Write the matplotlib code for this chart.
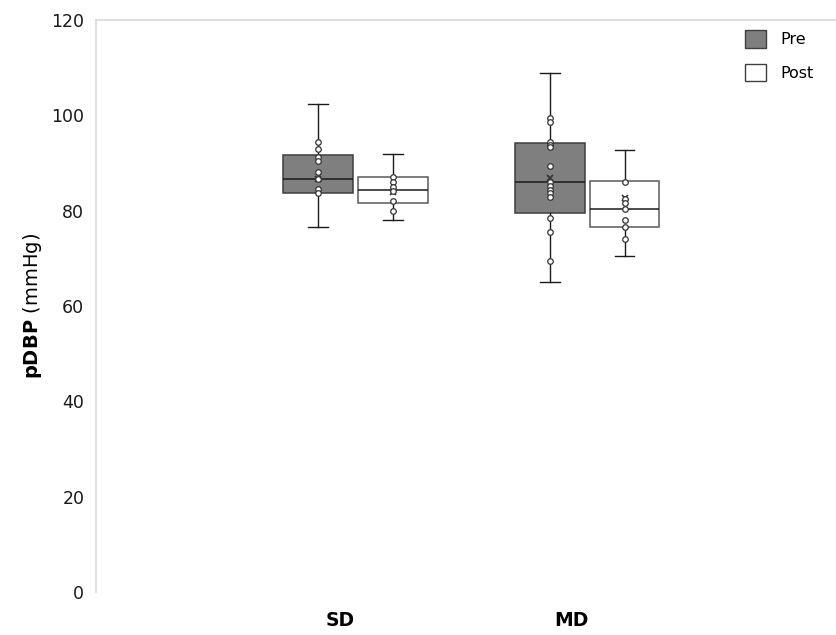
"""
Peripheral diastolic BP before/after, SD vs MD - box plot with inner points.
Saved to out.png
"""
import numpy as np
import matplotlib
matplotlib.use("Agg")
import matplotlib.pyplot as plt
from matplotlib.patches import Patch

GROUPS = ["SD", "MD"]
CONDS = ["Pre", "Post"]

# box statistics: whislo, q1, median, q3, whishi, mean
SD_PRE = dict(whislo=76.6, q1=83.8, med=86.7, q3=91.7, whishi=102.4, mean=86.6)
SD_POST = dict(whislo=78.0, q1=81.5, med=84.3, q3=87.0, whishi=91.8, mean=84.0)
MD_PRE = dict(whislo=65.0, q1=79.5, med=85.9, q3=94.1, whishi=108.8, mean=86.8)
MD_POST = dict(whislo=70.4, q1=76.6, med=80.4, q3=86.2, whishi=92.8, mean=82.6)

# inner points
SD_PRE_PTS = [94.5, 92.9, 91.3, 90.5, 88.0, 86.6, 84.6, 83.6]
SD_POST_PTS = [87.0, 85.9, 84.9, 84.1, 82.0, 80.0]
MD_PRE_PTS = [99.4, 98.5, 94.5, 93.8, 93.3, 89.4, 86.0, 85.2, 84.3, 83.6, 82.9,
              78.5, 75.5, 69.5]
MD_POST_PTS = [86.0, 82.4, 81.7, 80.4, 78.0, 76.6, 74.0]

PRE_COL, POST_COL = "#7f7f7f", "#ffffff"
EDGE = "#3f3f3f"

plt.rcParams["font.family"] = "DejaVu Sans"

fig = plt.figure(figsize=(8.36, 6.35), dpi=100)
ax = fig.add_axes([0.115, 0.068, 0.885, 0.9005])

cat_x = np.arange(1, len(GROUPS) + 1)
off = {"Pre": -0.095, "Post": 0.228}
w = 0.30
boxes = {("SD", "Pre"): (SD_PRE, SD_PRE_PTS), ("SD", "Post"): (SD_POST, SD_POST_PTS),
         ("MD", "Pre"): (MD_PRE, MD_PRE_PTS), ("MD", "Post"): (MD_POST, MD_POST_PTS)}

for cx, g in zip(cat_x, GROUPS):
    for c in CONDS:
        st, pts = boxes[(g, c)]
        pos = cx + off[c]
        fill = PRE_COL if c == "Pre" else POST_COL
        edge = EDGE if c == "Pre" else "#5a5a5a"
        ax.bxp([dict(st, fliers=[])], positions=[pos], widths=w, capwidths=0.085,
               patch_artist=True, showmeans=True, showfliers=False,
               boxprops=dict(facecolor=fill, edgecolor=edge, linewidth=1.1),
               medianprops=dict(color="#1a1a1a", linewidth=1.1),
               whiskerprops=dict(color="#1a1a1a", linewidth=1.0),
               capprops=dict(color="#1a1a1a", linewidth=1.0),
               meanprops=dict(marker="x", markeredgecolor="#333333", markersize=5,
                              markeredgewidth=1.2))
        ax.plot([pos] * len(pts), pts, "o", ms=4, mfc="white", mec="#333333",
                mew=0.9, zorder=4)

ax.set_ylim(0, 120)
ax.set_xlim(-0.052, 3.14)
ax.set_yticks(np.arange(0, 121, 20))
ax.set_xticks(cat_x)
ax.set_xticklabels(GROUPS, fontsize=13.5, fontweight="bold")
ax.tick_params(axis="y", length=0, pad=8.5, labelsize=12.5, colors="#1a1a1a")
ax.tick_params(axis="x", length=0, pad=14)
ax.set_ylabel(r"$\bf{pDBP}$ (mmHg)", fontsize=14, labelpad=5.5)
for s in ("right", "bottom"):
    ax.spines[s].set_visible(False)
for s in ("left", "top"):
    ax.spines[s].set_color("#d9d9d9")
    ax.spines[s].set_linewidth(1.2)

handles = [Patch(facecolor=PRE_COL, edgecolor=EDGE, label="Pre"),
           Patch(facecolor=POST_COL, edgecolor=EDGE, label="Post")]
fig.legend(handles=handles, loc="upper right", bbox_to_anchor=(0.99, 0.975),
           frameon=False, fontsize=11.5, handlelength=1.3, handleheight=1.3,
           labelspacing=1.0, handletextpad=0.9)

fig.savefig("out.png", dpi=100)
